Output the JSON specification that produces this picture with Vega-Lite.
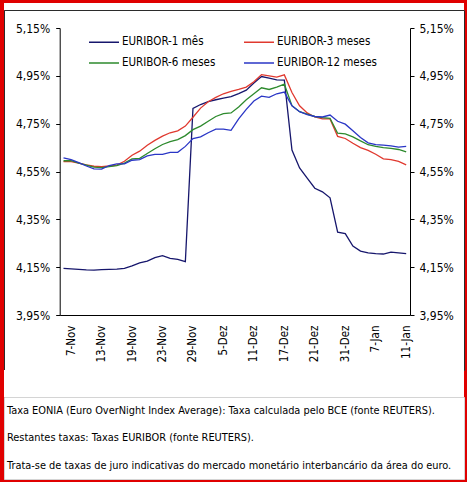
{
  "$schema": "https://vega.github.io/schema/vega-lite/v6.json",
  "background": "#e00000",
  "padding": {"left": 3, "top": 3, "right": 4, "bottom": 3},
  "spacing": 0,
  "bounds": "flush",
  "datasets": {
    "taxas": [
      {"d": "6-Nov", "EURIBOR-1 mês": 4.145, "EURIBOR-3 meses": 4.591, "EURIBOR-6 meses": 4.595, "EURIBOR-12 meses": 4.607},
      {"d": "7-Nov", "EURIBOR-1 mês": 4.143, "EURIBOR-3 meses": 4.591, "EURIBOR-6 meses": 4.595, "EURIBOR-12 meses": 4.600},
      {"d": "8-Nov", "EURIBOR-1 mês": 4.141, "EURIBOR-3 meses": 4.585, "EURIBOR-6 meses": 4.585, "EURIBOR-12 meses": 4.587},
      {"d": "9-Nov", "EURIBOR-1 mês": 4.139, "EURIBOR-3 meses": 4.578, "EURIBOR-6 meses": 4.577, "EURIBOR-12 meses": 4.573},
      {"d": "12-Nov", "EURIBOR-1 mês": 4.138, "EURIBOR-3 meses": 4.572, "EURIBOR-6 meses": 4.568, "EURIBOR-12 meses": 4.561},
      {"d": "13-Nov", "EURIBOR-1 mês": 4.140, "EURIBOR-3 meses": 4.570, "EURIBOR-6 meses": 4.566, "EURIBOR-12 meses": 4.560},
      {"d": "14-Nov", "EURIBOR-1 mês": 4.141, "EURIBOR-3 meses": 4.573, "EURIBOR-6 meses": 4.570, "EURIBOR-12 meses": 4.575},
      {"d": "15-Nov", "EURIBOR-1 mês": 4.142, "EURIBOR-3 meses": 4.577, "EURIBOR-6 meses": 4.575, "EURIBOR-12 meses": 4.582},
      {"d": "16-Nov", "EURIBOR-1 mês": 4.145, "EURIBOR-3 meses": 4.593, "EURIBOR-6 meses": 4.585, "EURIBOR-12 meses": 4.582},
      {"d": "19-Nov", "EURIBOR-1 mês": 4.155, "EURIBOR-3 meses": 4.618, "EURIBOR-6 meses": 4.603, "EURIBOR-12 meses": 4.597},
      {"d": "20-Nov", "EURIBOR-1 mês": 4.168, "EURIBOR-3 meses": 4.635, "EURIBOR-6 meses": 4.605, "EURIBOR-12 meses": 4.600},
      {"d": "21-Nov", "EURIBOR-1 mês": 4.175, "EURIBOR-3 meses": 4.660, "EURIBOR-6 meses": 4.625, "EURIBOR-12 meses": 4.615},
      {"d": "22-Nov", "EURIBOR-1 mês": 4.190, "EURIBOR-3 meses": 4.680, "EURIBOR-6 meses": 4.645, "EURIBOR-12 meses": 4.622},
      {"d": "23-Nov", "EURIBOR-1 mês": 4.198, "EURIBOR-3 meses": 4.698, "EURIBOR-6 meses": 4.663, "EURIBOR-12 meses": 4.622},
      {"d": "26-Nov", "EURIBOR-1 mês": 4.187, "EURIBOR-3 meses": 4.712, "EURIBOR-6 meses": 4.675, "EURIBOR-12 meses": 4.630},
      {"d": "27-Nov", "EURIBOR-1 mês": 4.183, "EURIBOR-3 meses": 4.720, "EURIBOR-6 meses": 4.683, "EURIBOR-12 meses": 4.630},
      {"d": "28-Nov", "EURIBOR-1 mês": 4.173, "EURIBOR-3 meses": 4.740, "EURIBOR-6 meses": 4.700, "EURIBOR-12 meses": 4.655},
      {"d": "29-Nov", "EURIBOR-1 mês": 4.814, "EURIBOR-3 meses": 4.777, "EURIBOR-6 meses": 4.725, "EURIBOR-12 meses": 4.688},
      {"d": "30-Nov", "EURIBOR-1 mês": 4.830, "EURIBOR-3 meses": 4.815, "EURIBOR-6 meses": 4.740, "EURIBOR-12 meses": 4.695},
      {"d": "3-Dez", "EURIBOR-1 mês": 4.842, "EURIBOR-3 meses": 4.842, "EURIBOR-6 meses": 4.760, "EURIBOR-12 meses": 4.712},
      {"d": "4-Dez", "EURIBOR-1 mês": 4.850, "EURIBOR-3 meses": 4.860, "EURIBOR-6 meses": 4.780, "EURIBOR-12 meses": 4.727},
      {"d": "5-Dez", "EURIBOR-1 mês": 4.857, "EURIBOR-3 meses": 4.875, "EURIBOR-6 meses": 4.792, "EURIBOR-12 meses": 4.727},
      {"d": "6-Dez", "EURIBOR-1 mês": 4.863, "EURIBOR-3 meses": 4.885, "EURIBOR-6 meses": 4.795, "EURIBOR-12 meses": 4.722},
      {"d": "7-Dez", "EURIBOR-1 mês": 4.876, "EURIBOR-3 meses": 4.893, "EURIBOR-6 meses": 4.820, "EURIBOR-12 meses": 4.770},
      {"d": "10-Dez", "EURIBOR-1 mês": 4.890, "EURIBOR-3 meses": 4.903, "EURIBOR-6 meses": 4.850, "EURIBOR-12 meses": 4.810},
      {"d": "11-Dez", "EURIBOR-1 mês": 4.920, "EURIBOR-3 meses": 4.925, "EURIBOR-6 meses": 4.875, "EURIBOR-12 meses": 4.845},
      {"d": "12-Dez", "EURIBOR-1 mês": 4.947, "EURIBOR-3 meses": 4.955, "EURIBOR-6 meses": 4.900, "EURIBOR-12 meses": 4.865},
      {"d": "13-Dez", "EURIBOR-1 mês": 4.940, "EURIBOR-3 meses": 4.950, "EURIBOR-6 meses": 4.893, "EURIBOR-12 meses": 4.860},
      {"d": "14-Dez", "EURIBOR-1 mês": 4.933, "EURIBOR-3 meses": 4.945, "EURIBOR-6 meses": 4.903, "EURIBOR-12 meses": 4.875},
      {"d": "17-Dez", "EURIBOR-1 mês": 4.932, "EURIBOR-3 meses": 4.954, "EURIBOR-6 meses": 4.915, "EURIBOR-12 meses": 4.882},
      {"d": "18-Dez", "EURIBOR-1 mês": 4.640, "EURIBOR-3 meses": 4.880, "EURIBOR-6 meses": 4.825, "EURIBOR-12 meses": 4.825},
      {"d": "19-Dez", "EURIBOR-1 mês": 4.565, "EURIBOR-3 meses": 4.825, "EURIBOR-6 meses": 4.800, "EURIBOR-12 meses": 4.800},
      {"d": "20-Dez", "EURIBOR-1 mês": 4.522, "EURIBOR-3 meses": 4.795, "EURIBOR-6 meses": 4.790, "EURIBOR-12 meses": 4.788},
      {"d": "21-Dez", "EURIBOR-1 mês": 4.480, "EURIBOR-3 meses": 4.778, "EURIBOR-6 meses": 4.780, "EURIBOR-12 meses": 4.780},
      {"d": "24-Dez", "EURIBOR-1 mês": 4.465, "EURIBOR-3 meses": 4.770, "EURIBOR-6 meses": 4.775, "EURIBOR-12 meses": 4.778},
      {"d": "27-Dez", "EURIBOR-1 mês": 4.440, "EURIBOR-3 meses": 4.770, "EURIBOR-6 meses": 4.772, "EURIBOR-12 meses": 4.786},
      {"d": "28-Dez", "EURIBOR-1 mês": 4.296, "EURIBOR-3 meses": 4.697, "EURIBOR-6 meses": 4.710, "EURIBOR-12 meses": 4.760},
      {"d": "31-Dez", "EURIBOR-1 mês": 4.290, "EURIBOR-3 meses": 4.688, "EURIBOR-6 meses": 4.707, "EURIBOR-12 meses": 4.748},
      {"d": "2-Jan", "EURIBOR-1 mês": 4.238, "EURIBOR-3 meses": 4.668, "EURIBOR-6 meses": 4.695, "EURIBOR-12 meses": 4.720},
      {"d": "3-Jan", "EURIBOR-1 mês": 4.217, "EURIBOR-3 meses": 4.650, "EURIBOR-6 meses": 4.678, "EURIBOR-12 meses": 4.692},
      {"d": "4-Jan", "EURIBOR-1 mês": 4.210, "EURIBOR-3 meses": 4.638, "EURIBOR-6 meses": 4.662, "EURIBOR-12 meses": 4.670},
      {"d": "7-Jan", "EURIBOR-1 mês": 4.207, "EURIBOR-3 meses": 4.622, "EURIBOR-6 meses": 4.655, "EURIBOR-12 meses": 4.662},
      {"d": "8-Jan", "EURIBOR-1 mês": 4.205, "EURIBOR-3 meses": 4.603, "EURIBOR-6 meses": 4.650, "EURIBOR-12 meses": 4.660},
      {"d": "9-Jan", "EURIBOR-1 mês": 4.213, "EURIBOR-3 meses": 4.600, "EURIBOR-6 meses": 4.647, "EURIBOR-12 meses": 4.657},
      {"d": "10-Jan", "EURIBOR-1 mês": 4.210, "EURIBOR-3 meses": 4.592, "EURIBOR-6 meses": 4.642, "EURIBOR-12 meses": 4.652},
      {"d": "11-Jan", "EURIBOR-1 mês": 4.207, "EURIBOR-3 meses": 4.578, "EURIBOR-6 meses": 4.632, "EURIBOR-12 meses": 4.655}
    ]
  },
  "config": {
    "font": "DejaVu Sans Condensed",
    "view": {"stroke": null, "fill": "white"},
    "axis": {
      "labelFont": "DejaVu Sans Condensed",
      "labelFontSize": 12,
      "labelColor": "#000000",
      "domainColor": "#000000",
      "tickColor": "#000000",
      "grid": false
    }
  },
  "vconcat": [
    {
      "width": 460,
      "height": 7,
      "view": {"stroke": null, "fill": "white"},
      "data": {"values": [{}]},
      "mark": {"type": "rect", "opacity": 0},
      "encoding": {}
    },
    {
      "width": 460,
      "height": 360,
      "view": {"stroke": "#2b2b2b", "strokeWidth": 1, "fill": "white"},
      "data": {"name": "taxas"},
      "transform": [
        {"fold": ["EURIBOR-1 mês", "EURIBOR-3 meses", "EURIBOR-6 meses", "EURIBOR-12 meses"], "as": ["serie", "taxa"]}
      ],
      "encoding": {
        "x": {
          "field": "d",
          "type": "ordinal",
          "sort": null,
          "scale": {"type": "point", "padding": 0.5, "range": [55.7, 406]},
          "axis": {
            "title": null,
            "values": ["7-Nov", "13-Nov", "19-Nov", "23-Nov", "29-Nov", "5-Dez", "11-Dez", "17-Dez", "21-Dez", "31-Dez", "7-Jan", "11-Jan"],
            "labelAngle": -90,
            "ticks": false,
            "tickSize": 0,
            "labelPadding": 10,
            "offset": -55,
            "labelFontSize": 11.5
          }
        }
      },
      "layer": [
        {
          "mark": {"type": "line", "strokeWidth": 1.3},
          "encoding": {
            "y": {
              "field": "taxa",
              "type": "quantitative",
              "scale": {"domain": [3.95, 5.15], "range": [305, 18], "nice": false, "zero": false},
              "axis": {
                "orient": "left",
                "title": null,
                "values": [3.95, 4.15, 4.35, 4.55, 4.75, 4.95, 5.15],
                "labelExpr": "replace(format(datum.value, '.2f'), '.', ',') + '%'",
                "offset": -55.7,
                "tickSize": 4,
                "labelPadding": 6
              }
            },
            "color": {
              "field": "serie",
              "type": "nominal",
              "scale": {
                "domain": ["EURIBOR-1 mês", "EURIBOR-3 meses", "EURIBOR-6 meses", "EURIBOR-12 meses"],
                "range": ["#16166c", "#e0392f", "#2d8a2d", "#2a36c6"]
              },
              "legend": {
                "title": null,
                "orient": "none",
                "direction": "horizontal",
                "legendX": 94,
                "legendY": 33,
                "columns": 2,
                "columnPadding": 25,
                "rowPadding": 9,
                "labelOffset": 12,
                "symbolType": "M-3,0H3",
                "symbolSize": 100,
                "symbolStrokeWidth": 1.5,
                "labelFont": "DejaVu Sans Condensed",
                "labelFontSize": 11.5,
                "labelColor": "#000000",
                "padding": 0
              }
            }
          }
        },
        {
          "mark": {"type": "line", "opacity": 0},
          "encoding": {
            "y": {
              "field": "taxa",
              "type": "quantitative",
              "axis": {
                "orient": "right",
                "title": null,
                "values": [3.95, 4.15, 4.35, 4.55, 4.75, 4.95, 5.15],
                "labelExpr": "replace(format(datum.value, '.2f'), '.', ',') + '%'",
                "offset": -54,
                "tickSize": 4,
                "labelPadding": 5
              }
            },
            "detail": {"field": "serie"}
          }
        }
      ],
      "resolve": {"axis": {"y": "independent"}}
    },
    {
      "width": 460,
      "height": 27,
      "view": {"stroke": null, "fill": "white"},
      "data": {"values": [{}]},
      "mark": {"type": "rect", "opacity": 0},
      "encoding": {}
    },
    {
      "width": 460,
      "height": 82,
      "view": {"stroke": "#d4d4d4", "strokeWidth": 1, "fill": "white"},
      "data": {"values": [{}]},
      "mark": {"type": "rect", "opacity": 0},
      "encoding": {},
      "title": {
        "text": [
          "Taxa EONIA (Euro OverNight Index Average): Taxa calculada pelo BCE (fonte REUTERS).",
          "Restantes taxas: Taxas EURIBOR (fonte REUTERS).",
          "Trata-se de taxas de juro indicativas do mercado monetário interbancário da área do euro."
        ],
        "orient": "bottom",
        "anchor": "start",
        "frame": "group",
        "offset": -74,
        "dx": 3,
        "lineHeight": 27.3,
        "font": "DejaVu Sans Condensed",
        "fontSize": 10.9,
        "fontWeight": "normal",
        "color": "#000000"
      }
    }
  ]
}
